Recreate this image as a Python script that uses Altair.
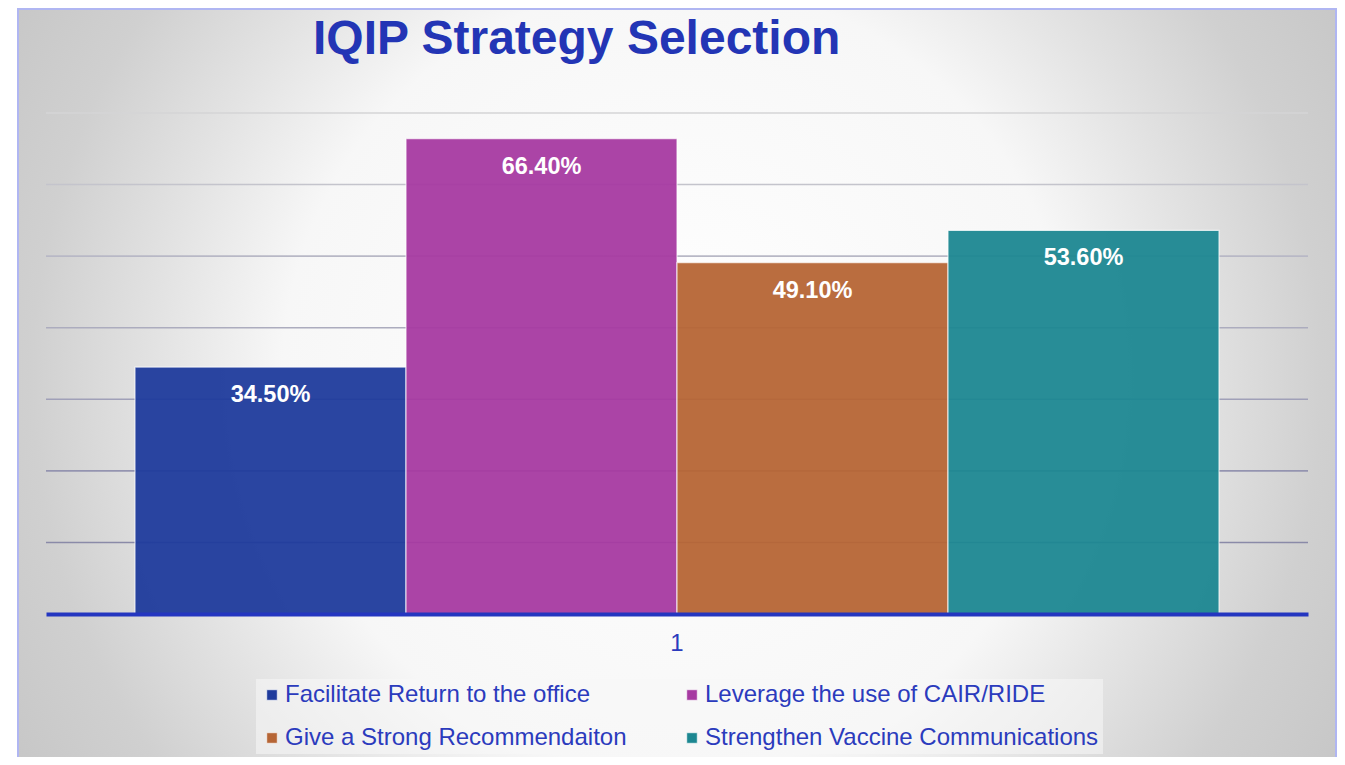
import altair as alt
import pandas as pd

# ---- data ----
categories = ["1"]
series = [
    "Facilitate Return to the office",
    "Leverage the use of CAIR/RIDE",
    "Give a Strong Recommendaiton",
    "Strengthen Vaccine Communications",
]
values = [34.5, 66.4, 49.1, 53.6]
colors = ["#1f3b9c", "#a63aa1", "#b66535", "#1c8791"]
grid_values = [10, 20, 30, 40, 50, 60, 70]
grid_colors = ["#8a8aa8", "#9494b0", "#a0a0b8", "#acacbe", "#b8b8c6", "#c4c4cc", "#d4d4d6"]
title_text = "IQIP Strategy Selection"

FONT = "Liberation Sans, Arial, sans-serif"
TEXT_BLUE = "#2b3bbd"
W, H = 1262, 501

df = pd.DataFrame({
    "cat": categories * len(series),
    "series": series,
    "value": values,
    "label": [f"{v:.2f}%" for v in values],
})
grid_df = pd.DataFrame({"g": grid_values})

yscale = alt.Scale(domain=[0, 70], nice=False)

bg_gradient = {
    "gradient": "radial",
    "x1": 0.5, "y1": 0.49, "r1": 0,
    "x2": 0.5, "y2": 0.49, "r2": 0.68,
    "stops": [
        {"offset": 0.0, "color": "#ffffff"},
        {"offset": 0.44, "color": "#f7f7f7"},
        {"offset": 0.58, "color": "#e3e3e3"},
        {"offset": 0.72, "color": "#d0d0d0"},
        {"offset": 1.0, "color": "#bdbdbd"},
    ],
}

background = alt.Chart(pd.DataFrame({"k": [0]})).mark_rect(
    fill=bg_gradient, stroke="#b0b6f2", strokeWidth=2
).encode(
    x=alt.value(-28), x2=alt.value(1290), y=alt.value(-104), y2=alt.value(660)
)

grid = alt.Chart(grid_df).mark_rule(strokeWidth=1.6).encode(
    y=alt.Y("g:Q", scale=yscale, axis=None),
    stroke=alt.Stroke("g:O", scale=alt.Scale(domain=grid_values, range=grid_colors), legend=None),
)

xenc = alt.X(
    "cat:N",
    scale=alt.Scale(paddingInner=0, paddingOuter=0.0821),
    axis=alt.Axis(
        title=None, labelAngle=0, ticks=False, tickSize=0, grid=False,
        labelFontSize=24, labelFont=FONT, labelColor=TEXT_BLUE, labelPadding=17,
        domainColor="#2436c0", domainWidth=4, zindex=2,
    ),
)
xoff = alt.XOffset("series:N", sort=series, scale=alt.Scale(paddingInner=0, paddingOuter=0))

bars = alt.Chart(df).mark_bar(
    stroke="white", strokeWidth=1.2, strokeOpacity=0.7, fillOpacity=0.95
).encode(
    x=xenc,
    xOffset=xoff,
    y=alt.Y("value:Q", scale=yscale, axis=None),
    color=alt.Color(
        "series:N", sort=series,
        scale=alt.Scale(domain=series, range=colors),
        legend=alt.Legend(
            title=None, orient="none", legendX=210, legendY=566, columns=2,
            direction="horizontal",
            columnPadding=53, rowPadding=19, symbolType="square", symbolSize=110,
            symbolStrokeColor="white", symbolStrokeWidth=0.6,
            labelFontSize=24, labelFont=FONT, labelColor=TEXT_BLUE, labelLimit=700,
            labelOffset=1, padding=4, fillColor="rgba(248,248,248,0.55)", zindex=2,
        ),
    ),
)

labels = alt.Chart(df).mark_text(
    color="white", fontWeight="bold", fontSize=23.5, font=FONT, baseline="alphabetic", dy=35
).encode(
    x=alt.X("cat:N"),
    xOffset=alt.XOffset("series:N", sort=series),
    y=alt.Y("value:Q", scale=yscale, axis=None),
    text="label:N",
)

chart = alt.layer(background, grid, bars, labels).properties(
    width=W, height=H,
    autosize="none",
    padding={"left": 38, "top": 105, "right": 29, "bottom": 143},
    title=alt.TitleParams(
        title_text, anchor="start", frame="group", dx=267, dy=94, offset=0,
        baseline="alphabetic", fontSize=48, font=FONT, fontWeight="bold", color="#2335b5",
        zindex=2,
    ),
).configure_view(stroke=None).configure(background="white")

chart.save("out.html", embed_options={"renderer": "svg", "actions": False})
